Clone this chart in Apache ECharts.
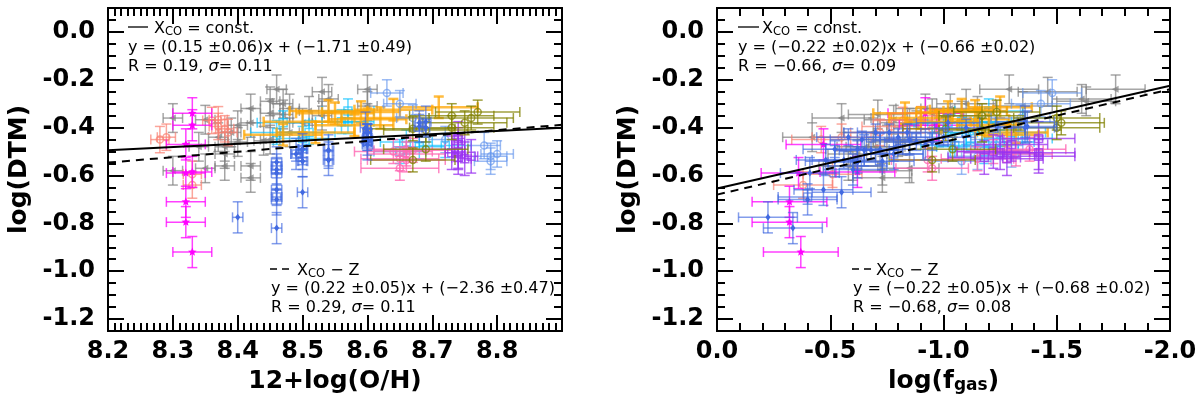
<!DOCTYPE html>
<html>
<head>
<meta charset="utf-8">
<title>DTM relations</title>
<script src="https://cdn.jsdelivr.net/npm/echarts@6/dist/echarts.min.js"></script>
<style>
  html, body { margin: 0; padding: 0; background: #fff; }
  #chart { width: 1200px; height: 398px; }
</style>
</head>
<body>
<div id="chart"></div>
<script>
// values: metallicity, gas fraction and DTM per galaxy
const grayOH  = [8.46, 8.53, 8.60, 8.54, 8.60, 8.45, 8.47, 8.48, 8.42, 8.45, 8.47, 8.51, 8.53, 8.30, 8.35, 8.42, 8.50, 8.40, 8.39, 8.48, 8.44, 8.45, 8.40, 8.37, 8.34, 8.38, 8.38, 8.38, 8.35, 8.30, 8.42, 8.42]
const grayGas = [-1.29, -1.46, -1.76, -1.61, -1.35, -1.63, -1.10, -1.03, -0.92, -0.95, -0.71, -1.15, -1.08, -0.55, -0.78, -0.85, -1.20, -0.88, -0.69, -0.98, -0.82, -0.75, -0.80, -0.42, -0.66, -0.70, -0.62, -0.60, -0.85, -0.73, -0.58, -0.73]
const grayDTM = [-0.24, -0.25, -0.24, -0.28, -0.31, -0.29, -0.30, -0.32, -0.32, -0.34, -0.345, -0.33, -0.35, -0.36, -0.367, -0.38, -0.38, -0.39, -0.42, -0.42, -0.455, -0.45, -0.46, -0.44, -0.48, -0.48, -0.51, -0.56, -0.57, -0.58, -0.56, -0.61]

const salmonOH  = [8.28, 8.29, 8.33, 8.33, 8.36, 8.37, 8.37, 8.38, 8.385]
const salmonGas = [-0.46, -0.55, -0.51, -0.38, -0.82, -0.90, -0.77, -0.95, -0.72]
const salmonDTM = [-0.45, -0.44, -0.595, -0.64, -0.37, -0.367, -0.395, -0.405, -0.42]

const magentaOH  = [8.33, 8.33, 8.32, 8.33, 8.32, 8.32, 8.32, 8.33]
const magentaGas = [-0.92, -0.97, -0.47, -0.62, -0.36, -0.32, -0.32, -0.37]
const magentaDTM = [-0.34, -0.39, -0.47, -0.585, -0.59, -0.71, -0.795, -0.92]

const skyOH  = [8.57, 8.57, 8.56, 8.51, 8.47, 8.46, 8.50, 8.66, 8.68, 8.72, 8.65]
const skyGas = [-1.20, -1.15, -1.08, -1.10, -1.02, -1.30, -1.33, -1.25, -1.12, -1.05, -1.18]
const skyDTM = [-0.33, -0.375, -0.375, -0.42, -0.38, -0.42, -0.445, -0.46, -0.48, -0.475, -0.50]

const orangeOH  = [8.52, 8.60, 8.59, 8.71, 8.64, 8.55, 8.50, 8.47, 8.58, 8.62, 8.54]
const orangeGas = [-1.32, -1.15, -1.02, -1.25, -1.08, -0.83, -0.98, -1.28, -1.20, -0.90, -1.14]
const orangeDTM = [-0.42, -0.365, -0.335, -0.315, -0.325, -0.34, -0.375, -0.43, -0.39, -0.36, -0.33]

const cornflowerOH  = [8.63, 8.65, 8.78, 8.79, 8.80, 8.79, 8.72, 8.67]
const cornflowerGas = [-1.48, -1.43, -1.22, -1.15, -1.30, -1.08, -1.25, -1.34]
const cornflowerDTM = [-0.255, -0.30, -0.475, -0.52, -0.51, -0.54, -0.45, -0.36]

const royalOH  = [8.40, 8.46, 8.46, 8.46, 8.46, 8.50, 8.46, 8.46, 8.49, 8.50, 8.50, 8.54, 8.54, 8.60, 8.60, 8.597, 8.68, 8.69]
const royalGas = [-0.225, -0.335, -0.40, -0.47, -0.41, -0.55, -0.62, -0.60, -0.78, -0.72, -0.52, -0.65, -0.48, -0.85, -0.92, -1.36, -1.37, -1.36]
const royalDTM = [-0.775, -0.82, -0.70, -0.66, -0.59, -0.67, -0.545, -0.575, -0.51, -0.49, -0.54, -0.495, -0.535, -0.45, -0.47, -0.40, -0.395, -0.375]

// tight blue points, they only stand out in the gas panel
const blueTightOH  = [8.60, 8.60, 8.60, 8.60, 8.60, 8.68, 8.69, 8.60, 8.60, 8.54, 8.54, 8.50, 8.50, 8.50, 8.60, 8.60]
const blueTightGas = [-0.70, -0.80, -0.95, -0.88, -0.64, -1.02, -1.10, -0.76, -0.58, -0.68, -0.56, -0.62, -0.73, -0.52, -0.84, -1.00]
const blueTightDTM = [-0.42, -0.44, -0.46, -0.46, -0.45, -0.38, -0.40, -0.42, -0.44, -0.495, -0.535, -0.49, -0.54, -0.49, -0.42, -0.44]

const blueBoxOH  = [8.46, 8.46, 8.49]
const blueBoxGas = [-0.62, -0.40, -0.78]
const blueBoxDTM = [-0.56, -0.69, -0.51]

const oliveOH  = [8.73, 8.76, 8.77, 8.67, 8.69, 8.73, 8.69, 8.67, 8.75]
const oliveGas = [-1.17, -1.50, -1.235, -1.01, -1.17, -1.50, -1.04, -0.95, -1.52]
const oliveDTM = [-0.35, -0.36, -0.335, -0.405, -0.41, -0.40, -0.49, -0.535, -0.38]

const pinkOH  = [8.65, 8.66, 8.67, 8.66, 8.66, 8.64, 8.65]
const pinkGas = [-0.95, -1.32, -1.28, -0.93, -1.38, -1.22, -1.15]
const pinkDTM = [-0.57, -0.51, -0.495, -0.535, -0.49, -0.50, -0.53]

const purpleOH  = [8.74, 8.74, 8.74, 8.74, 8.76, 8.73, 8.75, 8.74]
const purpleGas = [-1.42, -1.30, -1.25, -1.18, -1.42, -1.42, -1.28, -1.22]
const purpleDTM = [-0.445, -0.47, -0.505, -0.525, -0.52, -0.505, -0.53, -0.50]

// fit lines, ends at the panel edges
const fitOH = [8.2, 8.9]
const fitConstOH = [-0.495, -0.40]
const fitZOH = [-0.546, -0.388]
const fitGas = [0, -2]
const fitConstGas = [-0.654, -0.225]
const fitZGas = [-0.68, -0.24]

// tick positions of the DTM axis, the range starts off-multiple
const dtmMajorTicks = [-1.2, -1.0, -0.8, -0.6, -0.4, -0.2, 0]
const dtmMinorTicks = [-1.2, -1.15, -1.1, -1.05, -1.0, -0.95, -0.9, -0.85, -0.8, -0.75, -0.7, -0.65, -0.6, -0.55, -0.5, -0.45, -0.4, -0.35, -0.3, -0.25, -0.2, -0.15, -0.1, -0.05, 0, 0.05]

const FONT = 'DejaVu Sans'

// one entry per sample; err = half widths [OH, gas, DTM]
const samples = [
    { oh: grayOH, gas: grayGas, dtm: grayDTM, err: [0.015, 0.13, 0.06], color: '#808080', alpha: 0.7, width: 1.5, marker: 'triangle' },
    { oh: salmonOH, gas: salmonGas, dtm: salmonDTM, err: [0.014, 0.13, 0.055], color: '#fa8072', alpha: 0.7, width: 1.5, marker: 'circle' },
    { oh: magentaOH, gas: magentaGas, dtm: magentaDTM, err: [0.03, 0.165, 0.065], color: '#ff00ff', alpha: 0.75, width: 1.5, marker: 'star' },
    { oh: skyOH, gas: skyGas, dtm: skyDTM, err: [0.04, 0.15, 0.05], color: '#00bfff', alpha: 0.65, width: 1.5, marker: 'square' },
    { oh: orangeOH, gas: orangeGas, dtm: orangeDTM, err: [0.06, 0.14, 0.045], color: '#ffa500', alpha: 0.75, width: 2.5, marker: 'none' },
    { oh: cornflowerOH, gas: cornflowerGas, dtm: cornflowerDTM, err: [0.025, 0.13, 0.055], color: '#6495ed', alpha: 0.65, width: 1.5, marker: 'circle' },
    { oh: pinkOH, gas: pinkGas, dtm: pinkDTM, err: [0.06, 0.16, 0.05], color: '#ff69b4', alpha: 0.8, width: 1.5, marker: 'circle' },
    { oh: purpleOH, gas: purpleGas, dtm: purpleDTM, err: [0.01, 0.16, 0.07], color: '#9932f0', alpha: 0.75, width: 1.5, marker: 'square' },
    { oh: oliveOH, gas: oliveGas, dtm: oliveDTM, err: [0.065, 0.19, 0.05], color: '#808000', alpha: 0.75, width: 1.5, marker: 'circle' },
    { oh: royalOH, gas: royalGas, dtm: royalDTM, err: [0.008, 0.13, 0.065], color: '#4169e1', alpha: 0.65, width: 1.5, marker: 'diamond' },
    { oh: blueTightOH, gas: blueTightGas, dtm: blueTightDTM, err: [0.006, 0.14, 0.035], color: '#4169e1', alpha: 0.65, width: 1.5, marker: 'diamond' },
    { oh: blueBoxOH, gas: blueBoxGas, dtm: blueBoxDTM, err: [0.008, 0.13, 0.03], color: '#4169e1', alpha: 0.65, width: 1.5, marker: 'square' }
]

const errorBarRender = (s) => (params, api) => {
    const x = api.value(0), y = api.value(1), ex = api.value(2), ey = api.value(3)
    const c = api.coord([x, y])
    const a = api.coord([x - ex, y]), b = api.coord([x + ex, y])
    const t = api.coord([x, y + ey]), u = api.coord([x, y - ey])
    const stroke = { stroke: s.color, lineWidth: s.width, opacity: s.alpha, fill: null }
    const seg = (x1, y1, x2, y2) => ({ type: 'line', shape: { x1, y1, x2, y2 }, style: stroke })
    const cap = 5
    const children = [
        seg(a[0], c[1], b[0], c[1]), seg(c[0], t[1], c[0], u[1]),
        seg(a[0], c[1] - cap, a[0], c[1] + cap), seg(b[0], c[1] - cap, b[0], c[1] + cap),
        seg(c[0] - cap, t[1], c[0] + cap, t[1]), seg(c[0] - cap, u[1], c[0] + cap, u[1])
    ]
    const solid = { fill: s.color, opacity: s.alpha, stroke: null }
    if (s.marker === 'circle') {
        children.push({ type: 'circle', shape: { cx: c[0], cy: c[1], r: 3.5 }, style: stroke })
    } else if (s.marker === 'square') {
        children.push({ type: 'rect', shape: { x: c[0] - 4, y: c[1] - 4, width: 8, height: 8 }, style: stroke })
    } else if (s.marker === 'triangle') {
        children.push({ type: 'polygon', shape: { points: [[c[0] - 4, c[1]], [c[0] + 3, c[1] - 3.5], [c[0] + 3, c[1] + 3.5]] }, style: solid })
    } else if (s.marker === 'diamond') {
        children.push({ type: 'polygon', shape: { points: [[c[0], c[1] - 3.5], [c[0] + 2.5, c[1]], [c[0], c[1] + 3.5], [c[0] - 2.5, c[1]]] }, style: { ...solid, opacity: 1 } })
    } else if (s.marker === 'star') {
        const pts = []
        for (let i = 0; i < 10; i++) {
            const r = i % 2 ? 2 : 4.5, ang = -Math.PI / 2 + i * Math.PI / 5
            pts.push([c[0] + r * Math.cos(ang), c[1] + r * Math.sin(ang)])
        }
        children.push({ type: 'polygon', shape: { points: pts }, style: { ...solid, opacity: 1 } })
    }
    return { type: 'group', children }
}

const errorSeries = (s, xs, xErr, xAxisIndex, yAxisIndex) => ({
    type: 'custom',
    xAxisIndex,
    yAxisIndex,
    silent: true,
    renderItem: errorBarRender(s),
    data: xs.map((v, i) => [v, s.dtm[i], xErr, s.err[2]])
})

const fitSeries = (xs, ys, dashed, xAxisIndex, yAxisIndex) => ({
    type: 'line',
    xAxisIndex,
    yAxisIndex,
    z: 10,
    symbol: 'none',
    silent: true,
    lineStyle: { color: '#000', width: 2, type: dashed ? [8, 6] : 'solid' },
    data: xs.map((v, i) => [v, ys[i]])
})

const tickLine = { color: '#000', width: 2 }
const labelStyle = { color: '#000', fontFamily: FONT, fontWeight: 'bold', fontSize: 24 }
const nameStyle = {
    color: '#000', fontFamily: FONT, fontWeight: 'bold', fontSize: 25,
    rich: { sub: { fontFamily: FONT, fontWeight: 'bold', fontSize: 17, color: '#000', padding: [9, 0, 0, 0] } }
}

const makeX = (gridIndex, position, conf, labelled) => ({
    type: 'value',
    gridIndex,
    position,
    min: conf.min,
    max: conf.max,
    interval: conf.interval,
    inverse: conf.inverse,
    name: labelled ? conf.name : '',
    nameLocation: 'middle',
    nameGap: 24,
    nameTextStyle: nameStyle,
    axisLine: { show: true, onZero: false, lineStyle: tickLine },
    axisTick: { show: true, inside: true, length: 16, lineStyle: tickLine },
    minorTick: { show: true, splitNumber: conf.minor, length: 8, lineStyle: tickLine },
    axisLabel: { show: labelled, margin: 9, ...labelStyle, formatter: conf.format },
    splitLine: { show: false },
    minorSplitLine: { show: false }
})

const makeY = (gridIndex, position, ticks, tickLength, labelled, name) => ({
    type: 'value',
    gridIndex,
    position,
    min: -1.25,
    max: 0.1,
    name: name || '',
    nameLocation: 'middle',
    nameGap: 76,
    nameTextStyle: nameStyle,
    axisLine: { show: true, onZero: false, lineStyle: tickLine },
    axisTick: { show: true, inside: true, length: tickLength, lineStyle: tickLine, customValues: ticks },
    axisLabel: { show: labelled, margin: 13, ...labelStyle, customValues: dtmMajorTicks, formatter: (v) => v.toFixed(1) },
    splitLine: { show: false }
})

const ohAxis = {
    min: 8.2, max: 8.9, interval: 0.1, minor: 10, name: '12+log(O/H)',
    format: (v) => (v > 8.85 ? '' : v.toFixed(1))
}
const gasAxis = {
    min: -2, max: 0, interval: 0.5, minor: 5, inverse: true, name: 'log(f{sub|gas})',
    format: (v) => (v === 0 ? '0.0' : v.toFixed(1))
}

const noteRich = {
    sub: { fontFamily: FONT, fontSize: 11.5, fill: '#000', padding: [7, 0, 0, 0] },
    i: { fontFamily: FONT, fontSize: 16, fontStyle: 'italic', fill: '#000' }
}
const note = (x, y, text) => ({
    type: 'text', x, y, silent: true,
    style: { text, fontFamily: FONT, fontSize: 16, fill: '#000', verticalAlign: 'middle', rich: noteRich }
})
const keyLine = (x1, x2, y, dashed) => ({
    type: 'line', silent: true,
    shape: { x1, y1: y, x2, y2: y },
    style: { stroke: '#000', lineWidth: 1.3, lineDash: dashed ? [7, 5] : null }
})

const option = {
    backgroundColor: '#fff',
    animation: false,
    grid: [
        { left: 108, top: 8, width: 454, height: 323, outerBoundsMode: 'none' },
        { left: 717, top: 8, width: 453, height: 323, outerBoundsMode: 'none' }
    ],
    xAxis: [
        makeX(0, 'bottom', ohAxis, true), makeX(0, 'top', ohAxis, false),
        makeX(1, 'bottom', gasAxis, true), makeX(1, 'top', gasAxis, false)
    ],
    yAxis: [
        makeY(0, 'left', dtmMajorTicks, 16, true, 'log(DTM)'), makeY(0, 'left', dtmMinorTicks, 8, false),
        makeY(0, 'right', dtmMajorTicks, 16, false), makeY(0, 'right', dtmMinorTicks, 8, false),
        makeY(1, 'left', dtmMajorTicks, 16, true, 'log(DTM)'), makeY(1, 'left', dtmMinorTicks, 8, false),
        makeY(1, 'right', dtmMajorTicks, 16, false), makeY(1, 'right', dtmMinorTicks, 8, false)
    ],
    series: [
        ...samples.map((s) => errorSeries(s, s.oh, s.err[0], 0, 0)),
        ...samples.map((s) => errorSeries(s, s.gas, s.err[1], 2, 4)),
        fitSeries(fitOH, fitConstOH, false, 0, 0),
        fitSeries(fitOH, fitZOH, true, 0, 0),
        fitSeries(fitGas, fitConstGas, false, 2, 4),
        fitSeries(fitGas, fitZGas, true, 2, 4)
    ],
    graphic: [
        keyLine(128, 148, 27, false),
        note(154, 29, 'X{sub|CO} = const.'),
        note(128, 48, 'y = (0.15 ±0.06)x + (−1.71 ±0.49)'),
        note(128, 67, 'R = 0.19, {i|σ}= 0.11'),
        keyLine(270, 291, 269, true),
        note(297, 271, 'X{sub|CO} − Z'),
        note(271, 289, 'y = (0.22 ±0.05)x + (−2.36 ±0.47)'),
        note(271, 308, 'R = 0.29, {i|σ}= 0.11'),
        keyLine(738, 759, 27, false),
        note(762, 29, 'X{sub|CO} = const.'),
        note(738, 48, 'y = (−0.22 ±0.02)x + (−0.66 ±0.02)'),
        note(738, 67, 'R = −0.66, {i|σ}= 0.09'),
        keyLine(852, 873, 269, true),
        note(876, 271, 'X{sub|CO} − Z'),
        note(853, 289, 'y = (−0.22 ±0.05)x + (−0.68 ±0.02)'),
        note(853, 308, 'R = −0.68, {i|σ}= 0.08')
    ]
}

const myChart = echarts.init(document.getElementById('chart'), null, { renderer: 'canvas' })
myChart.setOption(option)
window.addEventListener('resize', () => myChart.resize())
</script>
</body>
</html>
